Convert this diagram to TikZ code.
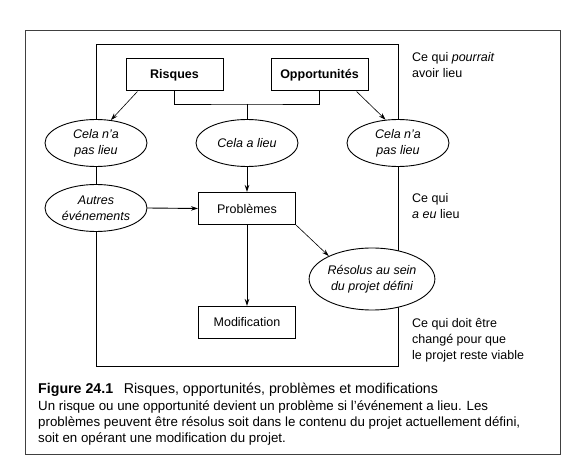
\documentclass[tikz,border=0pt]{standalone}
\usepackage{fontspec}
\setmainfont{Liberation Sans}
\usetikzlibrary{shapes,arrows.meta,calc}
\tikzset{
  >={Stealth[length=7pt,width=4.5pt]},
  boite/.style={rectangle, draw=black, line width=1pt, fill=white, minimum width=97pt,
                minimum height=32pt, inner sep=0pt, font=\fontsize{12.5}{16}\selectfont},
  gras/.style={font=\fontsize{12.5}{16}\selectfont\bfseries},
  bulle/.style={ellipse, draw=black, line width=0.9pt, fill=white, minimum width=102pt,
                minimum height=47pt, inner sep=0pt, align=center,
                font=\fontsize{12.5}{16}\selectfont\itshape},
  fleche/.style={draw, line width=0.6pt, ->},
  trait/.style={draw, line width=0.9pt},
  marge/.style={anchor=north west, align=left, inner sep=0pt, font=\fontsize{12.5}{16}\selectfont}
}

\begin{document}
\begin{tikzpicture}[x=1pt,y=-1pt]
      \useasboundingbox (0,0) rectangle (579,473);

      % Outer frame and inner frame.
      \draw[black!75, line width=0.9pt] (25,30) rectangle (560,454);
      \draw[line width=1pt] (96,45) rectangle (398,367);

      % Top boxes.
      \node[boite, gras] (risques) at (174.5,75) {Risques};
      \node[boite, gras] (opport) at (319.5,75) {Opportunités};

      % Ellipses on the second row.
      \node[bulle] (nonG) at (96,143) {Cela n’a\\pas lieu};
      \node[bulle] (lieu) at (247,143) {Cela a lieu};
      \node[bulle] (nonD) at (398,143) {Cela n’a\\pas lieu};

      % Third row and below.
      \node[bulle] (autres) at (96,208) {Autres\\événements};
      \node[boite] (problemes) at (247,208.5) {Problèmes};
      \node[bulle, minimum width=110pt, minimum height=62pt] (resolus) at (372,279)
      {Résolus au sein\\du projet défini};
      \node[boite] (modif) at (247,322.5) {Modification};

      % Join of the two top boxes.
      \coordinate (fourche) at (247,104);
      \draw[trait] (risques.south) |- (fourche) -| (opport.south);
      \draw[trait] (fourche) -- (lieu.north);

      % Arrows.
      \draw[fleche] (risques.204) -- (nonG.57);
      \draw[fleche] (opport.-24) -- (nonD.118);
      \draw[fleche, line width=0.9pt] (lieu.south) -- (problemes.north);
      \draw[fleche, line width=0.9pt] (autres.east) -- (problemes.west);
      \draw[fleche] (problemes.south east) -- (resolus.152);
      \draw[fleche, line width=0.9pt] (problemes.south) -- (modif.north);

      % Texts on the right.
      \node[marge] (pourrait) at (412,52) {Ce qui \textit{pourrait}\\avoir lieu};
      \node[marge] (eulieu) at (412,193) {Ce qui\\\textit{a eu} lieu};
      \node[marge] (change) at (412,318) {Ce qui doit être\\changé pour que\\le projet reste viable};

      % Caption.
      \node[anchor=north west, inner sep=0pt, font=\fontsize{14.2}{16}\selectfont] (titre) at (38,383)
      {\textbf{Figure 24.1}\hspace{0.75em}Risques, opportunités, problèmes et modifications};
      \node[anchor=north west, inner sep=0pt, align=left, font=\fontsize{13.3}{15.6}\selectfont] (legende)
      at (38,401) {Un risque ou une opportunité devient un problème si l’événement a lieu. Les\\
      problèmes peuvent être résolus soit dans le contenu du projet actuellement défini,\\
      soit en opérant une modification du projet.};
\end{tikzpicture}
\end{document}
